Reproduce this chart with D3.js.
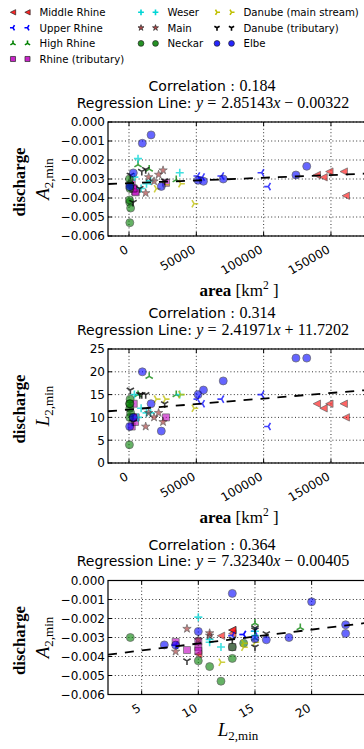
<!DOCTYPE html>
<html>
<head>
<meta charset="utf-8">
<script src="https://cdnjs.cloudflare.com/ajax/libs/d3/7.8.5/d3.min.js"></script>
<style>
  body { margin: 0; background: #fff; }
  svg { display: block; }
</style>
</head>
<body>
<svg id="chart" width="364" height="749"></svg>
<script>
// stations per river: [area km², L2min, A2min]
const middleRhine = [[139500, 13, -0.00279], [144500, 12, -0.00291], [148800, 13, -0.00261], [159500, 13, -0.00261], [161000, 10, -0.00388]];
const upperRhine = [[98600, 15, -0.00267], [103500, 8, -0.0034], [51000, 14, -0.00284], [54500, 13, -0.0029], [68800, 14, -0.00284]];
const highRhine = [[6700, 15, -0.00225], [15000, 19, -0.00248], [35100, 15, -0.00304]];
const rhineTrib = [[2000, 8, -0.00323], [4500, 9, -0.00366], [3000, 10, -0.0035], [5000, 10, -0.0037], [27500, 10, -0.0032], [3500, 13, -0.0035]];
const weser = [[6700, 10, -0.00193], [37700, 15, -0.00267], [13000, 11, -0.00325], [16000, 11, -0.0031], [9000, 12, -0.0035], [4000, 15, -0.0029]];
const main = [[12400, 8, -0.00374], [25300, 9, -0.00254], [14600, 11, -0.0029], [22000, 11, -0.00277], [18600, 10, -0.00312]];
const neckar = [[300, 4, -0.0030], [500, 10, -0.00423], [1200, 11, -0.00453], [600, 12, -0.0053], [400, 13, -0.0041], [800, 14, -0.0033], [700, 13, -0.0035]];
const danubeMain = [[20300, 14, -0.00351], [27000, 14, -0.0033], [38400, 15, -0.00325], [48300, 12, -0.0043]];
const danubeTrib = [[1000, 16, -0.0028], [8000, 15, -0.0035], [12400, 15, -0.0025], [26500, 13, -0.0031], [3000, 9, -0.00423], [9500, 15, -0.0026]];
const elbe = [[16400, 13, -0.00068], [9900, 20, -0.00112], [3200, 10, -0.00268], [24000, 7, -0.00339], [51300, 15, -0.00307], [55300, 16, -0.00312], [70000, 18, -0.0030], [124000, 23, -0.00279], [132000, 23, -0.00233], [500, 8, -0.0034]];

const riverNames = ["Middle Rhine", "Upper Rhine", "High Rhine", "Rhine (tributary)", "Weser", "Main", "Neckar", "Danube (main stream)", "Danube (tributary)", "Elbe"];
const riverData = [middleRhine, upperRhine, highRhine, rhineTrib, weser, main, neckar, danubeMain, danubeTrib, elbe];
const riverMarkers = ["triLeft", "tri3", "tri2", "square", "plus", "star", "circle", "tri4", "tri1", "circle"];
const riverColors = ["#ff0000", "#0000ff", "#008000", "#bf00bf", "#00d5d5", "#a52a2a", "#008000", "#bfbf00", "#000000", "#0000ff"];

// regression / correlation shown in the titles
const corrText = ["0.184", "0.314", "0.364"];
const regSlope = [2.85143e-9, 2.41971e-5, 7.32340e-5];
const regIntercept = [-0.00322, 11.7202, -0.00405];
const slopeText = ["2.85143", "2.41971", "7.32340"];
const interceptSign = ["\u2212", "+", "\u2212"];
const interceptText = ["0.00322", "11.7202", "0.00405"];

const areaTicks = [0, 50000, 100000, 150000];
const lTicks = [5, 10, 15, 20];
const aTicks = [0, -0.001, -0.002, -0.003, -0.004, -0.005, -0.006];
const lAxisTicks = [0, 5, 10, 15, 20, 25];

const sans = "'DejaVu Sans', sans-serif";
const serif = "'Liberation Serif', 'DejaVu Serif', serif";

const svg = d3.select("#chart");

const W = 262, H = 114, left = 108;
const tops = [122, 349, 580.5];

let xArea = d3.scaleLinear().domain([-15600, 179000]).range([0, W]);
let xL = d3.scaleLinear().domain([2.03, 25.15]).range([0, W]);
let yA = d3.scaleLinear().domain([-0.006, 0]).range([H, 0]);
let yL = d3.scaleLinear().domain([0, 25]).range([H, 0]);

function markerPath(kind, r) {
    const ray = (deg) => {
        let a = deg * Math.PI / 180;
        return "M0,0L" + (r * Math.cos(a)).toFixed(2) + "," + (-r * Math.sin(a)).toFixed(2);
    };
    switch (kind) {
        case "circle": return d3.symbol(d3.symbolCircle, Math.PI * r * r)();
        case "square": return "M" + (-r) + "," + (-r) + "h" + 2 * r + "v" + 2 * r + "h" + (-2 * r) + "Z";
        case "triLeft": return "M" + (-r) + ",0L" + r + "," + (-r) + "L" + r + "," + r + "Z";
        case "star": return d3.symbol(d3.symbolStar, r * r / 0.89)();
        case "plus": return "M" + (-r) + ",0H" + r + "M0," + (-r) + "V" + r;
        case "tri1": return ray(-90) + ray(30) + ray(150);   // tri_down
        case "tri2": return ray(90) + ray(210) + ray(330);   // tri_up
        case "tri3": return ray(180) + ray(60) + ray(300);   // tri_left
        case "tri4": return ray(0) + ray(120) + ray(240);    // tri_right
    }
}

function isLine(kind) {
    return kind === "plus" || kind.startsWith("tri") && kind !== "triLeft";
}

function drawMarker(g, kind, color, x, y, scale, alpha) {
    let sizes = {circle: 4, square: 3.5, triLeft: 3.7, star: 4.4, plus: 4, tri1: 4.2, tri2: 4.2, tri3: 4.2, tri4: 4.2};
    let p = g.append("path")
        .attr("d", markerPath(kind, sizes[kind] * scale))
        .attr("transform", "translate(" + x + "," + y + ")");
    if (isLine(kind)) {
        p.attr("fill", "none").attr("stroke", color).attr("stroke-width", 1.6)
            .attr("opacity", Math.min(1, alpha + 0.15));
    } else {
        p.attr("fill", color).attr("stroke", "#000").attr("stroke-width", 0.7)
            .attr("opacity", alpha);
    }
}

// legend
const legendCol = [13, 141, 217];
const legendRow = [12.3, 27.8, 43.4, 59];
riverNames.forEach((name, i) => {
    let col = i < 4 ? 0 : (i < 7 ? 1 : 2);
    let row = i < 4 ? i : (i < 7 ? i - 4 : i - 7);
    let x0 = legendCol[col], y0 = legendRow[row];
    let lg = svg.append("g");
    drawMarker(lg, riverMarkers[i], riverColors[i], x0, y0, 0.72, 0.85);
    drawMarker(lg, riverMarkers[i], riverColors[i], x0 + 14.5, y0, 0.72, 0.85);
    lg.append("text")
        .attr("x", x0 + 26.5).attr("y", y0 + 3.7)
        .attr("font-family", sans).attr("font-size", 10.2)
        .attr("fill", "#000")
        .text(name);
});

const panels = [
    {x: xArea, y: yA, fx: d => d[0], fy: d => d[2], xt: areaTicks, yt: aTicks, yfmt: d3.format(".3f"), ylab: "A", xlab: "area"},
    {x: xArea, y: yL, fx: d => d[0], fy: d => d[1], xt: areaTicks, yt: lAxisTicks, yfmt: d3.format("d"), ylab: "L", xlab: "area"},
    {x: xL, y: yA, fx: d => d[1], fy: d => d[2], xt: lTicks, yt: aTicks, yfmt: d3.format(".3f"), ylab: "A", xlab: "L"}
];

panels.forEach((pn, k) => {
    let top = tops[k];
    let g = svg.append("g").attr("transform", "translate(" + left + "," + top + ")");

    // titles
    let t1 = svg.append("text").attr("x", 212).attr("y", top - 31)
        .attr("text-anchor", "middle").attr("font-size", 14).attr("fill", "#000");
    t1.append("tspan").attr("font-family", sans).text("Correlation : ");
    t1.append("tspan").attr("font-family", serif).attr("font-size", 16).text(corrText[k]);

    let t2 = svg.append("text").attr("x", 213).attr("y", top - 14.5)
        .attr("text-anchor", "middle").attr("font-size", 14).attr("fill", "#000");
    t2.append("tspan").attr("font-family", sans).text("Regression Line: ");
    t2.append("tspan").attr("font-family", serif).attr("font-style", "italic").attr("font-size", 16).text("y");
    t2.append("tspan").attr("font-family", serif).attr("font-size", 16).attr("dx", 4).text("=");
    t2.append("tspan").attr("font-family", serif).attr("font-size", 16).attr("dx", 5).text(slopeText[k]);
    t2.append("tspan").attr("font-family", serif).attr("font-style", "italic").attr("font-size", 16).text("x");
    t2.append("tspan").attr("font-family", serif).attr("font-size", 16).attr("dx", 4).text(interceptSign[k]);
    t2.append("tspan").attr("font-family", serif).attr("font-size", 16).attr("dx", 4).text(interceptText[k]);

    // grid
    let grid = g.append("g").attr("stroke", "#000").attr("stroke-width", 0.8)
        .attr("stroke-dasharray", "1,2.4");
    pn.xt.forEach(v => {
        grid.append("line").attr("x1", pn.x(v)).attr("x2", pn.x(v)).attr("y1", 0).attr("y2", H);
    });
    pn.yt.forEach(v => {
        grid.append("line").attr("x1", 0).attr("x2", W).attr("y1", pn.y(v)).attr("y2", pn.y(v));
    });

    let clipId = "clip" + k;
    g.append("clipPath").attr("id", clipId)
        .append("rect").attr("x", 0).attr("y", 0).attr("width", W).attr("height", H);

    // scatter
    let marks = g.append("g").attr("clip-path", "url(#" + clipId + ")");
    riverData.forEach((rows, i) => {
        rows.forEach(d => {
            drawMarker(marks, riverMarkers[i], riverColors[i], pn.x(pn.fx(d)), pn.y(pn.fy(d)), 1, 0.6);
        });
    });

    // regression line
    let dom = pn.x.domain();
    let reg = dom.map(v => [v, regSlope[k] * v + regIntercept[k]]);
    marks.append("path")
        .datum(reg)
        .attr("fill", "none")
        .attr("stroke", "#000")
        .attr("stroke-width", 1.8)
        .attr("stroke-dasharray", "9,8")
        .attr("d", d3.line().x(d => pn.x(d[0])).y(d => pn.y(d[1])));

    // ticks (inward) and frame
    let ax = g.append("g").attr("stroke", "#000").attr("stroke-width", 1);
    pn.xt.forEach(v => {
        ax.append("line").attr("x1", pn.x(v)).attr("x2", pn.x(v)).attr("y1", H).attr("y2", H - 4);
        ax.append("line").attr("x1", pn.x(v)).attr("x2", pn.x(v)).attr("y1", 0).attr("y2", 4);
    });
    pn.yt.forEach(v => {
        ax.append("line").attr("x1", 0).attr("x2", 4).attr("y1", pn.y(v)).attr("y2", pn.y(v));
    });
    g.append("rect").attr("x", 0).attr("y", 0).attr("width", W).attr("height", H)
        .attr("fill", "none").attr("stroke", "#000").attr("stroke-width", 1.2);

    // tick labels
    pn.yt.forEach(v => {
        g.append("text").attr("x", -3).attr("y", pn.y(v) + 4.3)
            .attr("text-anchor", "end").attr("font-family", sans).attr("font-size", 12)
            .attr("fill", "#000").text(pn.yfmt(v));
    });
    pn.xt.forEach(v => {
        g.append("text")
            .attr("transform", "translate(" + pn.x(v) + "," + (H + 16) + ") rotate(-30)")
            .attr("text-anchor", "end").attr("font-family", sans).attr("font-size", 12)
            .attr("fill", "#000").text(v);
    });

    // y label
    let cy = H / 2 + 3;
    g.append("text")
        .attr("transform", "translate(" + (25 - left) + "," + cy + ") rotate(-90)")
        .attr("text-anchor", "middle").attr("font-family", serif).attr("font-weight", "bold")
        .attr("font-size", 16.8).attr("fill", "#000").text("discharge");
    let yl = g.append("text")
        .attr("transform", "translate(" + (49 - left) + "," + (H / 2) + ") rotate(-90)")
        .attr("text-anchor", "middle").attr("font-family", serif).attr("font-size", 19).attr("fill", "#000");
    yl.append("tspan").attr("font-style", "italic").text(pn.ylab);
    yl.append("tspan").attr("font-size", 13).attr("dy", 3.5).text("2,min");

    // x label
    if (pn.xlab === "area") {
        let xl = g.append("text").attr("x", 239 - left).attr("y", H + 60)
            .attr("text-anchor", "middle").attr("font-family", serif).attr("font-size", 17).attr("fill", "#000");
        xl.append("tspan").attr("font-weight", "bold").text("area");
        xl.append("tspan").text(" [km");
        xl.append("tspan").attr("font-size", 11.5).attr("dy", -7).text("2");
        xl.append("tspan").attr("dy", 7).text(" ]");
    } else {
        let xl = g.append("text").attr("x", 238 - left).attr("y", H + 41.5)
            .attr("text-anchor", "middle").attr("font-family", serif).attr("font-size", 19).attr("fill", "#000");
        xl.append("tspan").attr("font-style", "italic").text("L");
        xl.append("tspan").attr("font-size", 13).attr("dy", 3.5).text("2,min");
    }
});
</script>
</body>
</html>
